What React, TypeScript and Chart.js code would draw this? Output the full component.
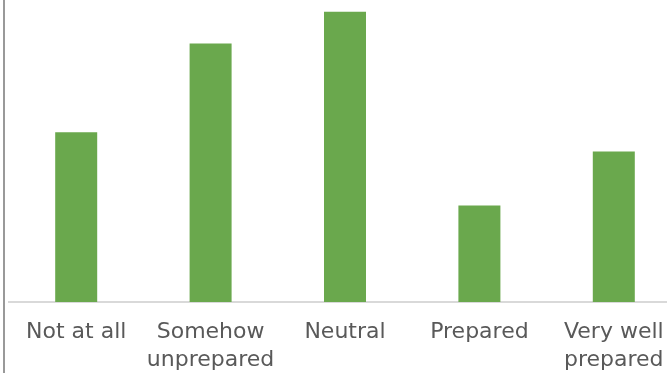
import React, { useEffect, useRef } from "react";
import { Chart, registerables } from "chart.js";

Chart.register(...registerables);

const categories: (string | string[])[] = [
  "Not at all",
  ["Somehow", "unprepared"],
  "Neutral",
  "Prepared",
  ["Very well", "prepared"],
];
const shares: number[] = [17.6, 26.8, 30.1, 10.0, 15.6];
const barColor = "#6aa84d";

export default function App() {
  const ref = useRef<HTMLCanvasElement | null>(null);
  useEffect(() => {
    if (!ref.current) return;
    const chart = new Chart(ref.current, {
      type: "bar",
      data: {
        labels: categories,
        datasets: [
          {
            data: shares,
            backgroundColor: barColor,
            categoryPercentage: 1,
            barPercentage: 0.3125,
          },
        ],
      },
      options: {
        responsive: false,
        animation: false,
        devicePixelRatio: 1,
        layout: { padding: { left: 9, right: 9, top: 2, bottom: 0 } },
        plugins: { legend: { display: false }, tooltip: { enabled: false } },
        scales: {
          y: { display: false, min: 0, max: 31.1 },
          x: {
            afterFit: (scale: any) => {
              scale.height = 71;
            },
            grid: {
              display: true,
              drawOnChartArea: false,
              drawTicks: false,
              color: "rgba(0,0,0,0)",
            },
            border: { display: true, color: "#d9d9d9", width: 2 },
            ticks: {
              padding: 17,
              color: "#595959",
              maxRotation: 0,
              autoSkip: false,
              font: { family: "DejaVu Sans", size: 22, lineHeight: 1.25 },
            },
          },
        },
      },
    });
    return () => chart.destroy();
  }, []);
  return (
    <div
      style={{
        position: "fixed",
        left: 0,
        top: 0,
        width: 667,
        height: 373,
        overflow: "hidden",
        background: "#ffffff",
      }}
    >
      <canvas
        ref={ref}
        width={690}
        height={373}
        style={{ display: "block", width: 690, height: 373 }}
      />
      <div
        style={{
          position: "absolute",
          left: 3,
          top: 0,
          width: 2,
          height: 373,
          background: "#999999",
        }}
      />
    </div>
  );
}
